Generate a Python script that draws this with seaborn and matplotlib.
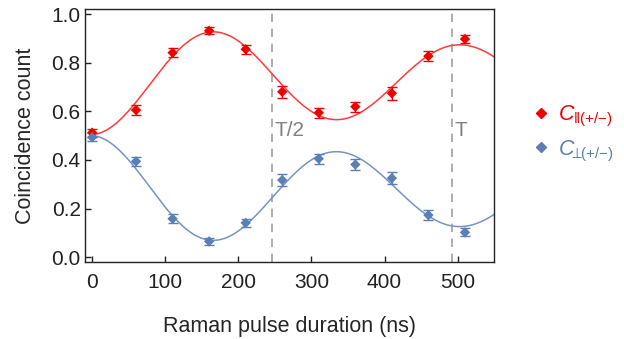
import numpy as np
import pandas as pd
import matplotlib
matplotlib.use('Agg')
import matplotlib.pyplot as plt
import seaborn as sns
from matplotlib.lines import Line2D

# data
t_ns = [0, 60, 110, 160, 210, 260, 310, 360, 410, 460, 510]
c_par = [0.512, 0.605, 0.841, 0.931, 0.855, 0.680, 0.594, 0.619, 0.674, 0.827, 0.897]
c_par_err = [0.017, 0.020, 0.018, 0.015, 0.018, 0.026, 0.020, 0.020, 0.026, 0.022, 0.017]
c_perp = [0.493, 0.394, 0.158, 0.065, 0.141, 0.317, 0.405, 0.381, 0.325, 0.173, 0.102]
c_perp_err = [0.017, 0.020, 0.018, 0.014, 0.018, 0.026, 0.020, 0.022, 0.026, 0.022, 0.016]
half_T, full_T = 246, 492

red = '#f00000'
red_line = '#ff3b3b'
blue = '#5b7fb5'
blue_line = '#7494c4'

sns.set_theme(style='ticks')
plt.rcParams['font.family'] = ['Liberation Sans', 'DejaVu Sans']
plt.rcParams['mathtext.fontset'] = 'custom'
plt.rcParams['mathtext.rm'] = 'Liberation Sans'
plt.rcParams['mathtext.it'] = 'Liberation Sans:italic'


def fit_damped(t, y):
    # least squares fit of c + A*exp(-t/tau)*cos(2*pi*t/T), grid over T and tau
    t = np.asarray(t, float)
    y = np.asarray(y, float)
    best = None
    for T in np.arange(300, 400, 1.0):
        for tau in np.arange(300, 4000, 20.0):
            M = np.column_stack([np.ones_like(t), np.exp(-t / tau) * np.cos(2 * np.pi * t / T)])
            coef, *_ = np.linalg.lstsq(M, y, rcond=None)
            res = np.sum((M @ coef - y) ** 2)
            if best is None or res < best[0]:
                best = (res, T, tau, coef)
    _, T, tau, coef = best
    return lambda x: coef[0] + coef[1] * np.exp(-x / tau) * np.cos(2 * np.pi * x / T)


f_par = fit_damped(t_ns, c_par)
f_perp = fit_damped(t_ns, c_perp)
tt = np.linspace(0, 550, 400)
fit_df = pd.DataFrame({'t': tt, 'par': f_par(tt), 'perp': f_perp(tt)})

fig = plt.figure(figsize=(6.24, 3.39), dpi=100)
ax = fig.add_axes([0.136, 0.227, 0.656, 0.746])

sns.lineplot(data=fit_df, x='t', y='par', color=red_line, lw=1.1, ax=ax)
sns.lineplot(data=fit_df, x='t', y='perp', color=blue_line, lw=1.1, ax=ax)

ax.errorbar(t_ns, c_par, yerr=c_par_err, fmt='none', ecolor=red, elinewidth=1, capsize=3.5, capthick=1)
ax.errorbar(t_ns, c_perp, yerr=c_perp_err, fmt='none', ecolor=blue, elinewidth=1, capsize=3.5, capthick=1)
sns.scatterplot(x=t_ns, y=c_par, marker='D', s=28, color=red, edgecolor='none', ax=ax, zorder=3)
sns.scatterplot(x=t_ns, y=c_perp, marker='D', s=28, color=blue, edgecolor='none', ax=ax, zorder=3)

for xv, lab in [(half_T, 'T/2'), (full_T, 'T')]:
    ax.axvline(xv, color='#a0a0a0', lw=1.2, ls=(0, (5, 4)), zorder=1)
    ax.text(xv + 3, 0.52, lab, color='#808080', fontsize=15, ha='left', va='center')

ax.set_xlim(-10, 550)
ax.set_ylim(-0.02, 1.02)
ax.set_xticks([0, 100, 200, 300, 400, 500])
ax.set_yticks([0.0, 0.2, 0.4, 0.6, 0.8, 1.0])
ax.set_yticklabels(['0.0', '0.2', '0.4', '0.6', '0.8', '1.0'])
ax.tick_params(direction='in', length=4, width=1, labelsize=15, colors='#222222')
ax.tick_params(axis='x', pad=8)
ax.tick_params(axis='y', pad=3)
for s in ax.spines.values():
    s.set_color('#222222')
    s.set_linewidth(1)
ax.set_xlabel('Raman pulse duration (ns)', fontsize=15.5, labelpad=17)
ax.set_ylabel('Coincidence count', fontsize=15.5, labelpad=11)

handles = [Line2D([], [], marker='D', ls='none', color=red, markersize=5),
           Line2D([], [], marker='D', ls='none', color=blue, markersize=5)]
labels = [r'$\mathit{C}_{{\Vert}\mathrm{(+/{-})}}$', r'$\mathit{C}_{\!\!{\perp}\!\!\mathrm{(+/{-})}}$']
fig.legend(handles, labels, loc='center left', bbox_to_anchor=(0.853, 0.606), frameon=False,
           fontsize=15.5, labelcolor=[red, blue], handlelength=0.8, handletextpad=0.4,
           labelspacing=0.45, borderaxespad=0, borderpad=0)

fig.savefig('out.png', dpi=100)
